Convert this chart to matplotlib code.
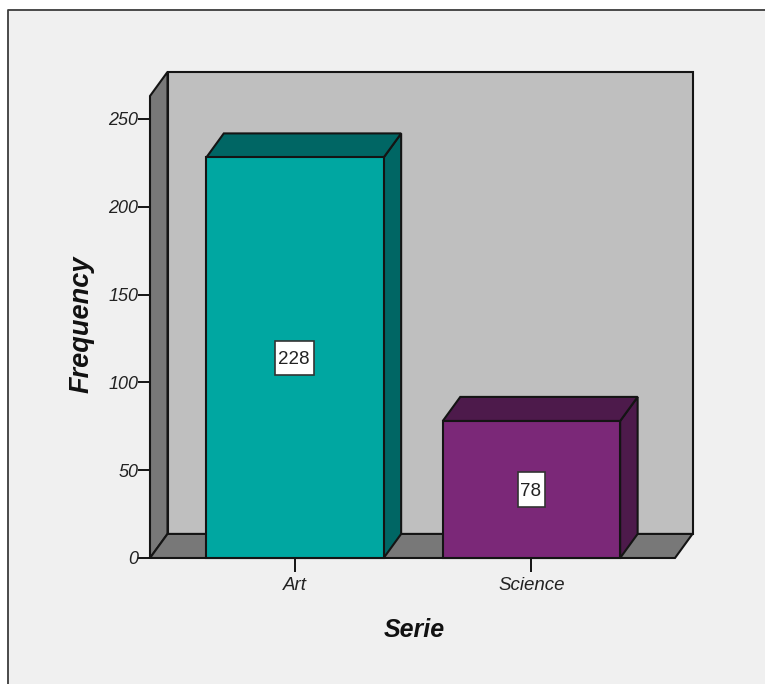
import matplotlib

matplotlib.use("Agg")
import matplotlib.pyplot as plt
from matplotlib.lines import Line2D
from matplotlib.patches import Polygon, Rectangle

categories = ["Art", "Science"]
frequencies = [228, 78]
y_ticks = [0, 50, 100, 150, 200, 250]

front_colors = ["#00A7A1", "#7B2878"]
shade_colors = ["#006664", "#4D1A4B"]

W, H = 765, 684
EDGE = "#141414"
TEXT = "#222222"

# 3D look: how far the back plane is shifted from the front plane, in data units
DEPTH_X = 0.074
DEPTH_Y = 13.7
BAR_WIDTH = 0.75
X_MIN, X_MAX = -0.613, 1.607
Y_MAX = 263

plt.rcParams["font.family"] = ["Liberation Sans", "DejaVu Sans"]

fig = plt.figure(figsize=(W / 100, H / 100), dpi=100, facecolor="white")

# chart frame, open on the right and at the bottom; kept behind the axes
fig.add_artist(Rectangle((8 / W, 0), 1, 1 - 10 / H, transform=fig.transFigure,
                         facecolor="#F0F0F0", edgecolor="none", zorder=-2))
fig.add_artist(Line2D([8 / W, 8 / W, 1], [0, 1 - 10 / H, 1 - 10 / H],
                      transform=fig.transFigure, color="#3C3C3C", lw=1.3, zorder=-1))

ax = fig.add_axes([150 / W, 1 - 558 / H, 525 / W, 462 / H])
ax.set_xlim(X_MIN, X_MAX)
ax.set_ylim(0, Y_MAX)
ax.patch.set_visible(False)
for spine in ax.spines.values():
    spine.set_visible(False)


def face(points, color, z):
    ax.add_patch(Polygon(points, closed=True, facecolor=color, edgecolor=EDGE,
                         lw=1.5, joinstyle="miter", clip_on=False, zorder=z))


# back wall, side wall and floor
face([(X_MIN + DEPTH_X, DEPTH_Y), (X_MAX + DEPTH_X, DEPTH_Y),
      (X_MAX + DEPTH_X, Y_MAX + DEPTH_Y), (X_MIN + DEPTH_X, Y_MAX + DEPTH_Y)], "#BFBFBF", 1)
face([(X_MIN, 0), (X_MIN + DEPTH_X, DEPTH_Y),
      (X_MIN + DEPTH_X, Y_MAX + DEPTH_Y), (X_MIN, Y_MAX)], "#787878", 2)
face([(X_MIN, 0), (X_MAX, 0), (X_MAX + DEPTH_X, DEPTH_Y), (X_MIN + DEPTH_X, DEPTH_Y)], "#787878", 2)

# bars: front, right side and top faces, then the value box
for i, value in enumerate(frequencies):
    left = i - BAR_WIDTH / 2
    right = i + BAR_WIDTH / 2
    face([(right, 0), (right + DEPTH_X, DEPTH_Y),
          (right + DEPTH_X, value + DEPTH_Y), (right, value)], shade_colors[i], 3)
    face([(left, value), (right, value),
          (right + DEPTH_X, value + DEPTH_Y), (left + DEPTH_X, value + DEPTH_Y)], shade_colors[i], 3)
    face([(left, 0), (right, 0), (right, value), (left, value)], front_colors[i], 4)

    label = str(value)
    box_w = 0.024 + 0.047 * len(label)
    box_h = 19.4
    ax.add_patch(Rectangle((i - box_w / 2, value / 2 - box_h / 2), box_w, box_h, facecolor="white",
                           edgecolor="#333333", lw=1.2, zorder=5))
    ax.text(i - 0.005, value / 2, label, ha="center", va="center_baseline", fontsize=13.5, color=TEXT, zorder=6)

ax.set_xticks(range(len(categories)))
ax.set_xticklabels(categories, fontstyle="italic", fontsize=13.5, color=TEXT)
ax.set_yticks(y_ticks)
ax.set_yticklabels([str(v) for v in y_ticks], fontstyle="italic", fontsize=13, color=TEXT)
ax.tick_params(axis="x", length=10, width=1.4, color=EDGE, pad=4)
ax.tick_params(axis="y", length=8.5, width=1.4, color=EDGE, pad=0)

ax.set_xlabel("Serie", fontsize=18, fontweight="bold", fontstyle="italic", color="#111111", labelpad=17, x=0.503)
ax.set_ylabel("Frequency", fontsize=19.5, fontweight="bold", fontstyle="italic", color="#111111", labelpad=10, y=0.505)

fig.savefig("out.png", dpi=100, facecolor=fig.get_facecolor())
